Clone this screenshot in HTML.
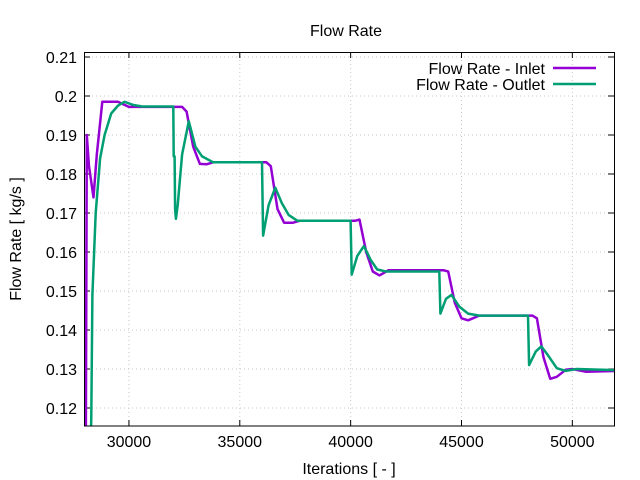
<!DOCTYPE html>
<html><head><meta charset="utf-8"><style>
html,body{margin:0;padding:0;background:#fff;}
svg{display:block;font-family:"Liberation Sans",sans-serif;}
</style></head><body>
<svg id="s" width="640" height="480" viewBox="0 0 640 480" xmlns="http://www.w3.org/2000/svg">
<defs><clipPath id="c"><rect x="84" y="52" width="531" height="374"/></clipPath></defs>
<g id="grid" stroke="#c8c8c8" stroke-width="1" stroke-dasharray="1,3"></g>
<g id="ticks" stroke="#000" stroke-width="1"></g>
<g id="labels" font-size="16" fill="#000"></g>
<text x="346" y="36" font-size="16" text-anchor="middle">Flow Rate</text>
<text x="349" y="474" font-size="16" text-anchor="middle">Iterations [ - ]</text>
<text transform="translate(21,239) rotate(-90)" font-size="16" text-anchor="middle">Flow Rate [ kg/s ]</text>
<g clip-path="url(#c)">
<polyline id="pin" fill="none" stroke="#9400d3" stroke-width="2.5" stroke-linejoin="round"/>
<polyline id="pout" fill="none" stroke="#009e73" stroke-width="2.5" stroke-linejoin="round"/>
</g>
<rect x="84.5" y="52.5" width="530" height="373.5" fill="none" stroke="#000" stroke-width="1"/>
<text x="545" y="74" font-size="16" text-anchor="end">Flow Rate - Inlet</text>
<line x1="553" y1="68" x2="596" y2="68" stroke="#9400d3" stroke-width="2.5"/>
<text x="545" y="90" font-size="16" text-anchor="end">Flow Rate - Outlet</text>
<line x1="553" y1="84" x2="596" y2="84" stroke="#009e73" stroke-width="2.5"/>
</svg>
<script>
var NS="http://www.w3.org/2000/svg";
function X(v){return 84.6+(v-28000)*0.02217;}
function Y(v){return 408-(v-0.12)*3900;}
function el(t,a,p,txt){var e=document.createElementNS(NS,t);for(var k in a)e.setAttribute(k,a[k]);if(txt!==undefined)e.textContent=txt;document.getElementById(p).appendChild(e);}
for(var v=30000;v<=50000;v+=5000){var x=X(v);
el('line',{x1:x,y1:52,x2:x,y2:426},'grid');
el('line',{x1:x,y1:426,x2:x,y2:420},'ticks');el('line',{x1:x,y1:52,x2:x,y2:58},'ticks');
el('text',{x:x,y:447,'text-anchor':'middle'},'labels',String(v));}
for(var i=0;i<=9;i++){var val=0.12+i*0.01;var y=Y(val);
el('line',{x1:84,y1:y,x2:614,y2:y},'grid');
el('line',{x1:84,y1:y,x2:90,y2:y},'ticks');el('line',{x1:614,y1:y,x2:608,y2:y},'ticks');
var s=val.toFixed(2).replace(/0$/,'');el('text',{x:77,y:y+6,'text-anchor':'end'},'labels',s);}
var inlet=[[28000,0.10],[28050,0.10],[28100,0.190],[28200,0.182],[28400,0.174],[28550,0.185],[28800,0.1985],[29500,0.1985],[30000,0.1972],[32400,0.1972],[32600,0.196],[32900,0.187],[33200,0.1826],[33500,0.1825],[33800,0.183],[36200,0.183],[36400,0.182],[36700,0.171],[37000,0.1675],[37400,0.1675],[37700,0.168],[40200,0.168],[40400,0.1683],[40700,0.160],[41000,0.155],[41300,0.154],[41700,0.1553],[44200,0.1553],[44400,0.155],[44700,0.147],[45000,0.143],[45300,0.1425],[45800,0.1437],[48200,0.1437],[48400,0.143],[48700,0.133],[49000,0.1275],[49300,0.128],[49700,0.1298],[50000,0.130],[50600,0.1293],[52000,0.1295]];
var outlet=[[28250,0.10],[28300,0.118],[28350,0.149],[28500,0.17],[28700,0.184],[28900,0.19],[29200,0.1955],[29500,0.1975],[29800,0.1985],[30200,0.1977],[30600,0.1973],[32000,0.1973],[32020,0.1845],[32060,0.1845],[32080,0.171],[32120,0.1685],[32200,0.172],[32400,0.185],[32700,0.1935],[33000,0.187],[33300,0.1845],[33800,0.183],[36000,0.183],[36050,0.1642],[36300,0.172],[36600,0.1765],[36900,0.1725],[37200,0.1695],[37600,0.168],[40000,0.168],[40050,0.1542],[40300,0.159],[40600,0.1615],[40900,0.158],[41200,0.1555],[41600,0.155],[44000,0.155],[44050,0.1442],[44300,0.148],[44550,0.149],[44900,0.146],[45300,0.1442],[45800,0.1437],[48000,0.1437],[48050,0.131],[48350,0.1345],[48600,0.1358],[48900,0.1335],[49300,0.1302],[49700,0.1295],[50200,0.130],[52000,0.1297]];
function pts(a){return a.map(function(p){return X(p[0]).toFixed(1)+','+Y(p[1]).toFixed(1);}).join(' ');}
document.getElementById('pin').setAttribute('points',pts(inlet));
document.getElementById('pout').setAttribute('points',pts(outlet));
</script>
</body></html>
